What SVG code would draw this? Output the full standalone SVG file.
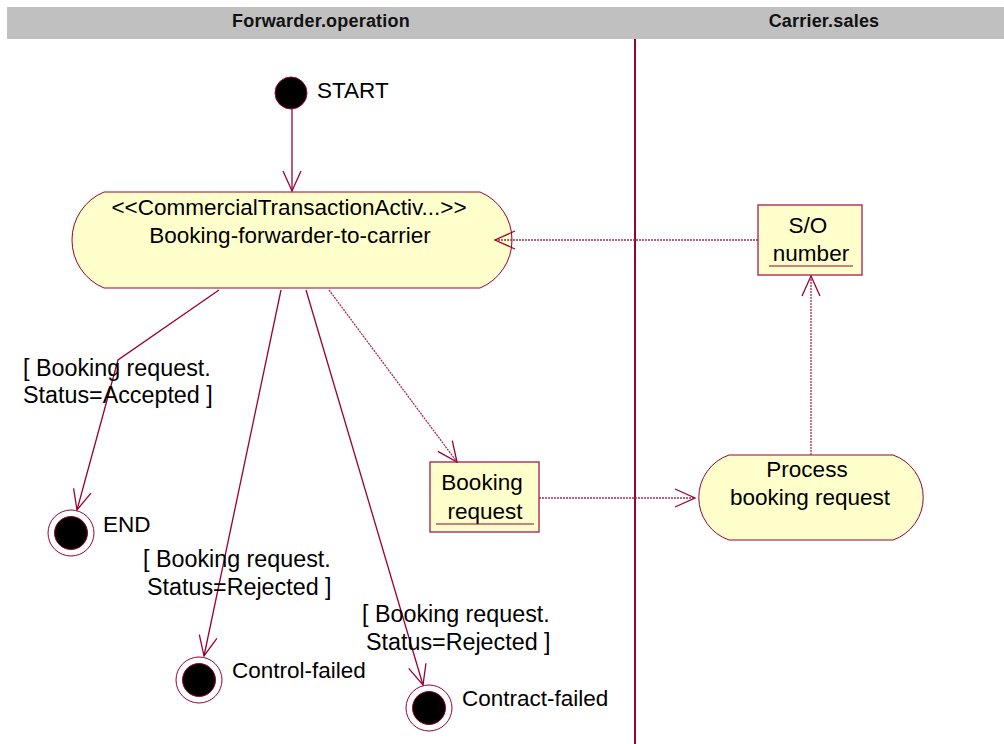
<svg xmlns="http://www.w3.org/2000/svg" width="1004" height="744" viewBox="0 0 1004 744">
  <style>
    .lbl { font-family: "Liberation Sans", Arial, sans-serif; font-size: 22.5px; fill: #000; }
    .guard { font-size: 23.3px; }
    .mid { text-anchor: middle; }
    .hdr { font-family: "Liberation Sans", Arial, sans-serif; font-size: 18px; font-weight: bold; fill: #111; text-anchor: middle; letter-spacing: 0.2px; }
    .node { fill: #FFFFCC; stroke: #990033; stroke-width: 1; }
    .obj { fill: #FFFFCC; stroke: #B03A64; stroke-width: 1.5; }
    .flow { fill: none; stroke: #990033; stroke-width: 1.3; }
    .oflow { fill: none; stroke: #A8285A; stroke-width: 1.3; stroke-dasharray: 2 1; }
    .uline { stroke: #990033; stroke-width: 1; }
  </style>
  <defs>
    <marker id="open" markerUnits="userSpaceOnUse" viewBox="-22 -11 24 22" markerWidth="24" markerHeight="22" refX="0" refY="0" orient="auto">
      <path d="M-20,-9 L0,0 L-20,9" fill="none" stroke="#990033" stroke-width="1.3" stroke-dasharray="none"/>
    </marker>
  </defs>

  <rect width="1004" height="744" fill="#ffffff"/>

  <!-- swimlane headers and divider -->
  <g id="lanes">
    <rect x="7" y="7" width="997" height="32" fill="#C0C0C0"/>
    <text class="hdr" x="321" y="27">Forwarder.operation</text>
    <text class="hdr" x="824" y="27">Carrier.sales</text>
    <line x1="635" y1="39" x2="635" y2="744" stroke="#990033" stroke-width="2"/>
  </g>

  <!-- initial state -->
  <g id="start">
    <circle cx="291" cy="93" r="16" fill="#000" stroke="#990033" stroke-width="1"/>
    <text class="lbl" x="317" y="98">START</text>
  </g>

  <!-- activity: booking from forwarder to carrier -->
  <g id="booking-forwarder-to-carrier">
    <path class="node" d="M104,192 H480 A52,52 0 0 1 480,288 H104 A52,52 0 0 1 104,192 Z"/>
    <text class="lbl mid" x="289" y="215">&lt;&lt;CommercialTransactionActiv...&gt;&gt;</text>
    <text class="lbl mid" x="290" y="243">Booking-forwarder-to-carrier</text>
  </g>

  <!-- object: S/O number -->
  <g id="so-number">
    <rect class="obj" x="758" y="205" width="104" height="70"/>
    <text class="lbl mid" x="808" y="233">S/O</text>
    <text class="lbl mid" x="811" y="261">number</text>
    <line class="uline" x1="769" y1="266" x2="853" y2="266"/>
  </g>

  <!-- object: booking request -->
  <g id="booking-request">
    <rect class="obj" x="430" y="462" width="109" height="70"/>
    <text class="lbl mid" x="482" y="490">Booking</text>
    <text class="lbl mid" x="485" y="519">request</text>
    <line class="uline" x1="436" y1="524" x2="534" y2="524"/>
  </g>

  <!-- activity: process booking request -->
  <g id="process-booking-request">
    <path class="node" d="M729,455 H893 A45,45 0 0 1 893,540 H729 A45,45 0 0 1 729,455 Z"/>
    <text class="lbl mid" x="807" y="477">Process</text>
    <text class="lbl mid" x="810" y="505">booking request</text>
  </g>

  <!-- final states -->
  <g id="end">
    <circle cx="71" cy="533" r="23" fill="#fff" stroke="#990033" stroke-width="1"/>
    <circle cx="71" cy="533" r="16.5" fill="#000" stroke="#990033" stroke-width="1"/>
    <text class="lbl" x="103" y="532">END</text>
  </g>
  <g id="control-failed">
    <circle cx="199" cy="680" r="23" fill="#fff" stroke="#990033" stroke-width="1"/>
    <circle cx="199" cy="680" r="16.5" fill="#000" stroke="#990033" stroke-width="1"/>
    <text class="lbl" x="232" y="678">Control-failed</text>
  </g>
  <g id="contract-failed">
    <circle cx="429" cy="708" r="23" fill="#fff" stroke="#990033" stroke-width="1"/>
    <circle cx="429" cy="708" r="16.5" fill="#000" stroke="#990033" stroke-width="1"/>
    <text class="lbl" x="462" y="706">Contract-failed</text>
  </g>

  <!-- connectors: transitions (solid) and object flows (dotted), with guards -->
  <g id="connectors">
    <line class="flow" x1="292" y1="109" x2="292" y2="191" marker-end="url(#open)"/>
    <polyline class="flow" points="219,290 118,360 77,510" marker-end="url(#open)"/>
    <line class="flow" x1="281" y1="290" x2="204" y2="656" marker-end="url(#open)"/>
    <line class="flow" x1="306" y1="290" x2="423" y2="685" marker-end="url(#open)"/>
    <line class="oflow" x1="329" y1="290" x2="457" y2="462" marker-end="url(#open)"/>
    <line class="oflow" x1="539" y1="498" x2="695" y2="498" marker-end="url(#open)"/>
    <line class="oflow" x1="811" y1="455" x2="811" y2="276" marker-end="url(#open)"/>
    <line class="oflow" x1="758" y1="240" x2="495" y2="240" marker-end="url(#open)"/>
    <text class="lbl guard" x="23" y="376">[ Booking request.</text>
    <text class="lbl guard" x="23" y="403">Status=Accepted ]</text>
    <text class="lbl guard" x="143" y="567">[ Booking request.</text>
    <text class="lbl guard" x="147" y="595">Status=Rejected ]</text>
    <text class="lbl guard" x="362" y="622">[ Booking request.</text>
    <text class="lbl guard" x="366" y="650">Status=Rejected ]</text>
  </g>
</svg>
